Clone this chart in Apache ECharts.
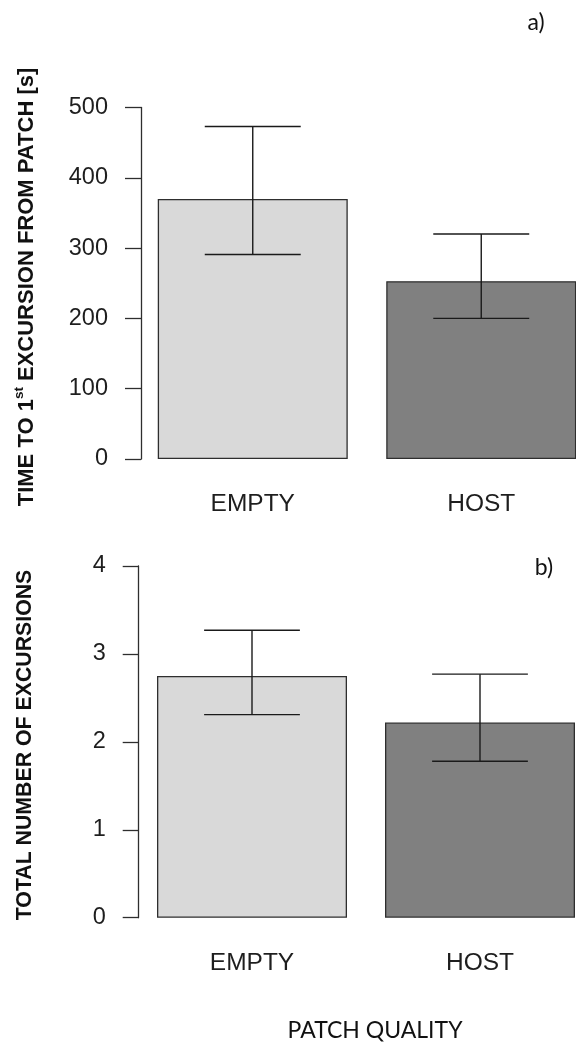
<!DOCTYPE html>
<html>
<head>
<meta charset="utf-8">
<style>
  html, body { margin: 0; padding: 0; background: #ffffff; overflow: hidden; }
  /* the drawing surface runs a little past the right edge so the HOST bars are cut there */
  #chart { width: 620px; height: 1043px; }
</style>
<script src="https://cdn.jsdelivr.net/npm/echarts@6/dist/echarts.min.js"></script>
</head>
<body>
<div id="chart"></div>
<script>
// Patch quality groups
const categories = ['EMPTY', 'HOST'];

// a) time to first excursion from patch, seconds (mean, error bar limits)
const timeMean  = [370, 253];
const timeLower = [291, 200];
const timeUpper = [473, 320];

// b) total number of excursions (mean, error bar limits)
const countMean  = [2.75, 2.22];
const countLower = [2.31, 1.78];
const countUpper = [3.27, 2.77];

// y-axis tick ranges
const timeAxis  = { min: 0, max: 500, step: 100 };
const countAxis = { min: 0, max: 4, step: 1 };

// ---- styling ----
const barFill = ['#d9d9d9', '#808080'];
const ink = '#1e1e1e';
const axisColor = '#2e2e2e';
const tickFont = 'Liberation Sans, Arial, sans-serif';

function yAxisFor(gridIndex, range, offset) {
  return {
    type: 'value',
    gridIndex: gridIndex,
    min: range.min,
    max: range.max,
    interval: range.step,
    offset: offset,
    splitLine: { show: false },
    axisLine: { show: true, lineStyle: { color: axisColor, width: 1.3 } },
    axisTick: { show: true, length: 16, lineStyle: { color: axisColor, width: 1.3 } },
    axisLabel: { color: ink, fontFamily: tickFont, fontSize: 23.5, margin: 33 }
  };
}

function xAxisFor(gridIndex) {
  return {
    type: 'category',
    gridIndex: gridIndex,
    data: categories,
    axisLine: { show: false },
    axisTick: { show: false },
    axisLabel: { color: ink, fontFamily: tickFont, fontSize: 24.5, margin: 33 }
  };
}

function barSeries(axisIndex, values) {
  return {
    type: 'bar',
    xAxisIndex: axisIndex,
    yAxisIndex: axisIndex,
    barWidth: 190,
    silent: true,
    data: values.map((v, i) => ({
      value: v,
      itemStyle: { color: barFill[i], borderColor: axisColor, borderWidth: 1.3 }
    }))
  };
}

function errorSeries(axisIndex, lower, upper) {
  return {
    type: 'custom',
    xAxisIndex: axisIndex,
    yAxisIndex: axisIndex,
    silent: true,
    z: 10,
    data: categories.map((c, i) => [i, lower[i], upper[i]]),
    renderItem: function (params, api) {
      const idx = api.value(0);
      const lo = api.coord([idx, api.value(1)]);
      const hi = api.coord([idx, api.value(2)]);
      const half = api.size([1, 0])[0] * 0.21;
      const style = { stroke: '#1a1a1a', lineWidth: 1.4 };
      return {
        type: 'group',
        children: [
          { type: 'line', shape: { x1: lo[0], y1: lo[1], x2: hi[0], y2: hi[1] }, style: style },
          { type: 'line', shape: { x1: hi[0] - half, y1: hi[1], x2: hi[0] + half, y2: hi[1] }, style: style },
          { type: 'line', shape: { x1: lo[0] - half, y1: lo[1], x2: lo[0] + half, y2: lo[1] }, style: style }
        ]
      };
    }
  };
}

const chart = echarts.init(document.getElementById('chart'), null, { renderer: 'canvas' });

chart.setOption({
  animation: false,
  backgroundColor: '#ffffff',
  grid: [
    { left: 138.5, top: 107.5, width: 457, height: 351.5 },
    { left: 138, top: 566, width: 456, height: 351.7 }
  ],
  xAxis: [xAxisFor(0), xAxisFor(1)],
  yAxis: [yAxisFor(0, timeAxis, -2.5), yAxisFor(1, countAxis, -0.7)],
  series: [
    barSeries(0, timeMean),
    errorSeries(0, timeLower, timeUpper),
    barSeries(1, countMean),
    errorSeries(1, countLower, countUpper)
  ],
  graphic: [
    {
      type: 'text', x: 25, y: 287, rotation: Math.PI / 2,
      style: {
        text: '{m|TIME TO 1}{s|st}{m| EXCURSION FROM PATCH [s]}',
        align: 'center', verticalAlign: 'middle',
        fill: '#111',
        rich: {
          m: { fontFamily: tickFont, fontWeight: 'bold', fontSize: 22, lineHeight: 25, verticalAlign: 'bottom' },
          s: { fontFamily: tickFont, fontWeight: 'bold', fontSize: 13.5, lineHeight: 25, verticalAlign: 'top' }
        }
      }
    },
    {
      type: 'text', x: 25, y: 745, rotation: Math.PI / 2,
      style: {
        text: 'TOTAL NUMBER OF EXCURSIONS',
        align: 'center', verticalAlign: 'middle',
        fill: '#111', fontFamily: tickFont, fontWeight: 'bold', fontSize: 21.3
      }
    },
    {
      type: 'text', x: 375, y: 1031,
      style: {
        text: 'PATCH QUALITY', align: 'center', verticalAlign: 'middle',
        fill: '#111', fontFamily: 'Lato, sans-serif', fontSize: 23
      }
    },
    {
      type: 'text', x: 536, y: 23,
      style: { text: 'a)', align: 'center', verticalAlign: 'middle', fill: '#111', fontFamily: 'Lato, sans-serif', fontSize: 23 }
    },
    {
      type: 'text', x: 544, y: 568,
      style: { text: 'b)', align: 'center', verticalAlign: 'middle', fill: '#111', fontFamily: 'Lato, sans-serif', fontSize: 23 }
    }
  ]
});
</script>
</body>
</html>
